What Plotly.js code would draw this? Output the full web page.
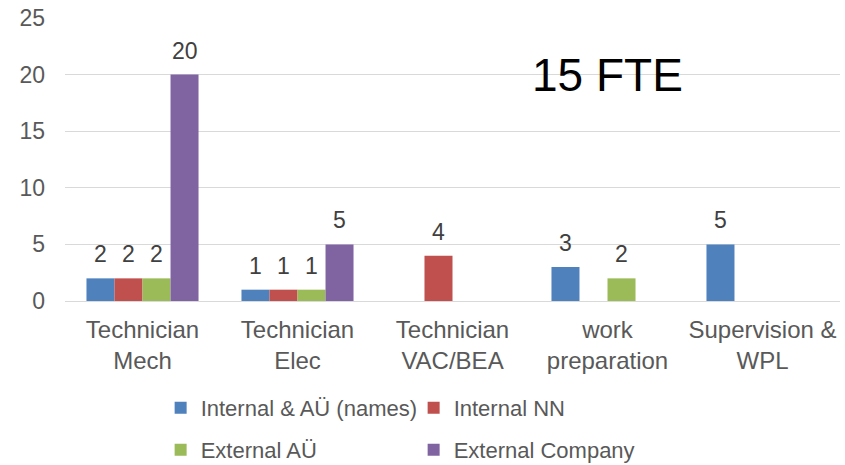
<!DOCTYPE html>
<html>
<head>
<meta charset="utf-8">
<script src="https://cdn.plot.ly/plotly-3.0.1.min.js"></script>
<style>html,body{margin:0;padding:0;background:#fff;}#chart{width:845px;height:465px;}</style>
</head>
<body>
<div id="chart"></div>
<script>
const categories = ["Technician<br>Mech", "Technician<br>Elec", "Technician<br>VAC/BEA", "work<br>preparation", "Supervision &<br>WPL"];
const seriesNames = ["Internal & AÜ (names)", "Internal NN", "External AÜ", "External Company"];
const internalNames = [2, 1, 0, 3, 5];
const internalNN = [2, 1, 4, 0, 0];
const externalAU = [2, 1, 0, 2, 0];
const externalCompany = [20, 5, 0, 0, 0];
const yTicks = [0, 5, 10, 15, 20, 25];
const noteText = "15 FTE";

const seriesValues = [internalNames, internalNN, externalAU, externalCompany];
const colors = ["#4F81BD", "#C0504D", "#9BBB59", "#8064A2"];
const legendIds = ["legend", "legend", "legend2", "legend2"];

const traces = seriesValues.map((vals, i) => ({
  type: "bar",
  name: seriesNames[i],
  x: categories,
  y: vals,
  marker: {color: colors[i], line: {width: 0}},
  legend: legendIds[i],
  hoverinfo: "skip"
}));

const FONT = "Liberation Sans, Arial, sans-serif";
const plotW = 845 - 65 - 5;
const bargap = 0.277;
const barW = plotW / categories.length * (1 - bargap) / 4;

const annotations = [];
seriesValues.forEach((vals, i) => {
  vals.forEach((v, j) => {
    if (v > 0) {
      annotations.push({
        x: categories[j], y: v, xref: "x", yref: "y",
        text: String(v), showarrow: false,
        yanchor: "bottom", xanchor: "center",
        xshift: (i - 1.5) * barW, yshift: 9,
        font: {family: FONT, size: 23, color: "#404040"}
      });
    }
  });
});
annotations.push({
  xref: "paper", yref: "paper", x: 0.7, y: 0.8,
  text: noteText, showarrow: false, xanchor: "center", yanchor: "middle",
  font: {family: FONT, size: 46, color: "#000000"}
});

const layout = {
  width: 845, height: 465,
  margin: {l: 65, r: 5, t: 18, b: 164, autoexpand: false},
  paper_bgcolor: "#ffffff", plot_bgcolor: "#ffffff",
  barmode: "group", bargap: bargap, bargroupgap: 0,
  font: {family: FONT, color: "#595959"},
  xaxis: {
    type: "category", showgrid: false, showline: false, zeroline: false,
    tickfont: {family: FONT, size: 24, color: "#595959"}, ticks: "",
    ticklabelstandoff: 12, automargin: false
  },
  yaxis: {
    range: [0, 25], tickvals: yTicks, showgrid: true, gridcolor: "#d9d9d9", gridwidth: 1,
    zeroline: true, zerolinecolor: "#d9d9d9", zerolinewidth: 1, showline: false,
    tickfont: {family: FONT, size: 23, color: "#595959"}, ticklabelstandoff: 19, automargin: false
  },
  showlegend: true,
  legend: {
    orientation: "h", x: 0.1234, xanchor: "left", yref: "container", y: 0.1226, yanchor: "middle",
    entrywidth: 208, entrywidthmode: "pixels",
    font: {family: FONT, size: 22, color: "#595959"}, bgcolor: "rgba(0,0,0,0)"
  },
  legend2: {
    orientation: "h", x: 0.1234, xanchor: "left", yref: "container", y: 0.0323, yanchor: "middle",
    entrywidth: 208, entrywidthmode: "pixels",
    font: {family: FONT, size: 22, color: "#595959"}, bgcolor: "rgba(0,0,0,0)"
  },
  annotations: annotations
};

Plotly.newPlot("chart", traces, layout, {displayModeBar: false, staticPlot: true});
</script>
</body>
</html>
